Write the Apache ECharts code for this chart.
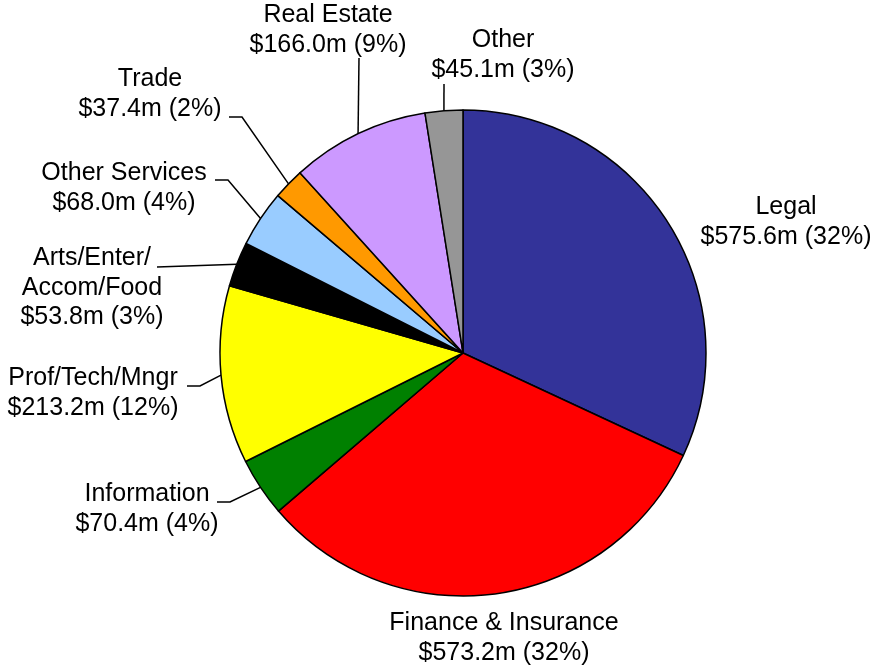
<!DOCTYPE html>
<html>
<head>
<meta charset="utf-8">
<script src="https://cdn.jsdelivr.net/npm/echarts@6/dist/echarts.min.js"></script>
<style>
  html, body { margin: 0; padding: 0; background: #fff; }
  #chart { width: 877px; height: 666px; }
</style>
</head>
<body>
<div id="chart"></div>
<script>
// 行业名称
const categories = ['Legal', 'Finance & Insurance', 'Information', 'Prof/Tech/Mngr',
  'Arts/Enter/\nAccom/Food', 'Other Services', 'Trade', 'Real Estate', 'Other']
// 金额 ($m)
const values = [575.6, 573.2, 70.4, 213.2, 53.8, 68.0, 37.4, 166.0, 45.1]
const colors = ['#333399', '#FF0000', '#008000', '#FFFF00', '#000000',
  '#99CCFF', '#FF9900', '#CC99FF', '#969696']

// label block centre, leader end, elbow x (null = no leader / straight)
const labelSpots = [
  { c: [786, 222] },
  { c: [504, 638] },
  { c: [147, 509], end: [217, 502], elbowX: 230 },
  { c: [93, 393], end: [187, 386], elbowX: 200 },
  { c: [92, 288], end: [157, 267] },
  { c: [124, 188], end: [215, 180], elbowX: 228 },
  { c: [150, 94], end: [229, 117], elbowX: 242 },
  { c: [328, 30], end: [359, 58] },
  { c: [503, 55], end: [444, 84] }
]

const total = values.reduce((a, b) => a + b, 0)

const myChart = echarts.init(document.getElementById('chart'))

const option = {
  animation: false,
  backgroundColor: '#fff',
  series: [{
    type: 'pie',
    center: [463, 353],
    radius: 243,
    startAngle: 90,
    clockwise: true,
    avoidLabelOverlap: false,
    itemStyle: { borderColor: '#000', borderWidth: 1.5 },
    label: {
      show: true,
      position: 'outside',
      color: '#000',
      fontFamily: 'Liberation Sans, Arial, sans-serif',
      fontSize: 25,
      lineHeight: 29.5,
      formatter: p => p.name + '\n$' + p.value.toFixed(1) + 'm (' + Math.round(p.value / total * 100) + '%)'
    },
    labelLine: { show: true, lineStyle: { color: '#000', width: 1.5 } },
    labelLayout: params => {
      const s = labelSpots[params.dataIndex]
      const res = { x: s.c[0], y: s.c[1], align: 'center', verticalAlign: 'middle' }
      if (s.end && params.labelLinePoints) {
        const edge = params.labelLinePoints[0]
        const elbow = s.elbowX != null ? [s.elbowX, s.end[1]] : s.end
        res.labelLinePoints = [edge, elbow, s.end]
      }
      return res
    },
    data: categories.map((name, i) => ({
      name,
      value: values[i],
      itemStyle: { color: colors[i] },
      labelLine: { show: !!labelSpots[i].end }
    }))
  }]
}

myChart.setOption(option)
window.addEventListener('resize', () => myChart.resize())
</script>
</body>
</html>
